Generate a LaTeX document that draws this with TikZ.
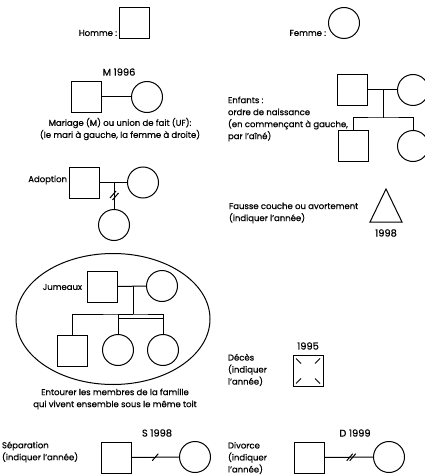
\documentclass[tikz,border=0pt]{standalone}
\usepackage{fontspec}
\setmainfont{Poppins}[FakeBold=0.6]
\usetikzlibrary{calc,shapes.geometric}
\begin{document}
\begin{tikzpicture}[x=1pt,y=-1pt,
  every node/.style={inner sep=0pt,outer sep=0pt},
  ln/.style={line width=1pt,black},
  male/.style={draw,line width=1pt,minimum width=30pt,minimum height=31pt},
  female/.style={draw,circle,line width=1pt,minimum size=31pt},
  txt/.style={font=\fontsize{8.5}{12}\selectfont,align=left},
  ctxt/.style={font=\fontsize{8.5}{12}\selectfont,align=center},
  yr/.style={font=\fontsize{9.8}{12}\selectfont,align=center}]
\useasboundingbox (0,0) rectangle (425,476);

% Homme / Femme
\node[male] (h) at (134,23) {};
\node[txt,anchor=east] (ht) at (117,33) {Homme :};
\node[female] (f) at (344,23) {};
\node[txt,anchor=east] (ft) at (326,33) {Femme :};

% Mariage
\node[yr] (m96) at (119,72) {M 1996};
\node[male] (mh) at (86,97) {};
\node[female] (mf) at (147,97) {};
\draw[ln] (mh.east) -- (mf.west);
\node[ctxt] (mt) at (120,129) {Mariage (M) ou union de fait (UF):\\(le mari à gauche, la femme à droite)};

% Enfants
\node[txt,anchor=west] (et) at (228,119) {Enfants :\\ordre de naissance\\(en commençant à gauche,\\par l'aîné)};
\node[male] (eh) at (352,90) {};
\node[female] (ef) at (413,90) {};
\draw[ln] (eh.east) -- (ef.west);
\coordinate (em) at (383,90);
\coordinate (es) at (383,118);
\node[male] (ec1) at (353,145.5) {};
\node[female] (ec2) at (413,146) {};
\draw[ln] (em) -- (es);
\draw[ln] (ec1.north) |- (es) -| (ec2.north);

% Adoption
\node[txt,anchor=east] (at) at (67,180) {Adoption};
\node[male] (ah) at (84,182.5) {};
\node[female] (af) at (143,182.5) {};
\draw[ln] (ah.east) -- (af.west);
\node[female] (ac) at (114,225) {};
\coordinate (am) at (114,182.5);
\draw[ln] (am) -- (ac.north);
\draw[ln] (110,198) -- (116,191);
\draw[ln] (112.5,200) -- (118.5,193);

% Fausse couche
\node[txt,anchor=west] (fct) at (229,213) {Fausse couche ou avortement\\(indiquer l'année)};
\coordinate (ta) at (386,189);
\coordinate (tb) at (370,222);
\coordinate (tc) at (402,222);
\draw[ln,line join=miter] (ta) -- (tb) -- (tc) -- cycle;
\node[yr] (t98) at (386,233) {1998};

% Jumeaux
\node[draw,ellipse,line width=1pt,minimum width=194pt,minimum height=131pt] (ell) at (113,319) {};
\node[txt,anchor=east] (jt) at (82,287) {Jumeaux};
\node[male] (jh) at (102.5,286.5) {};
\node[female] (jf) at (162,286) {};
\draw[ln] (jh.east) -- (jf.west);
\coordinate (jm) at (133,286);
\coordinate (js) at (133,314);
\draw[ln] (jm) -- (js);
\node[male] (jc1) at (72,350.5) {};
\node[female] (jc2) at (118,350) {};
\node[female] (jc3) at (163,350) {};
\draw[ln] (jc1.north) |- (js) -| (jc3.north);
\draw[ln] (jc2.north) |- (js);
\draw[ln] (jc2.north |- 0,318) -- (jc3.north |- 0,318);
\node[ctxt] (ent) at (115,399) {Entourer les membres de la famille\\qui vivent ensemble sous le même toit};

% Deces
\node[yr] (d95) at (308,346) {1995};
\node[male] (dh) at (308,371) {};
\node[txt,anchor=west] (dt) at (228,370) {Décès\\(indiquer\\l'année)};
\draw[ln] ($(dh.north west)+(3,3)$) -- ++(5,5);
\draw[ln] ($(dh.north east)+(-3,3)$) -- ++(-5,5);
\draw[ln] ($(dh.south west)+(3,-3)$) -- ++(5,-5);
\draw[ln] ($(dh.south east)+(-3,-3)$) -- ++(-5,-5);

% Separation
\node[yr] (s98) at (157,433) {S 1998};
\node[txt,anchor=west] (st) at (2,452) {Séparation\\(indiquer l'année)};
\node[male] (sh) at (116,457.5) {};
\node[female] (sf) at (195,457) {};
\draw[ln] (sh.east) -- (sf.west);
\coordinate (smid) at ($(sh.east)!0.5!(sf.west)$);
\draw[ln] ($(smid)+(-3,3.5)$) -- ($(smid)+(3,-3.5)$);

% Divorce
\node[yr] (d99) at (355,433) {D 1999};
\node[txt,anchor=west] (dvt) at (228,458) {Divorce\\(indiquer\\l'année)};
\node[male] (dvh) at (309,457.5) {};
\node[female] (dvf) at (389,457) {};
\draw[ln] (dvh.east) -- (dvf.west);
\coordinate (dmid) at ($(dvh.east)!0.55!(dvf.west)$);
\draw[ln] ($(dmid)+(-4.5,3.5)$) -- ($(dmid)+(1.5,-3.5)$);
\draw[ln] ($(dmid)+(-1.5,3.5)$) -- ($(dmid)+(4.5,-3.5)$);
\end{tikzpicture}
\end{document}
